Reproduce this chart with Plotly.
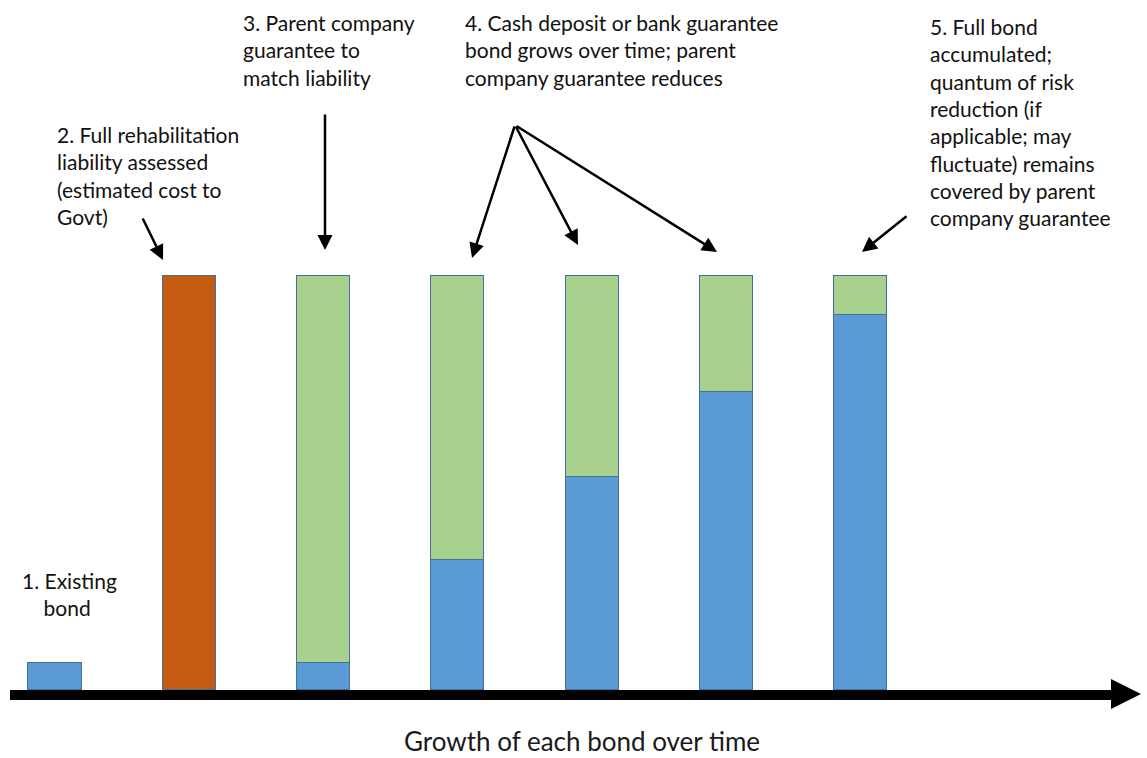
import plotly.graph_objects as go

W, H = 1147, 758

# ---- data ----
stages = [1, 2, 3, 4, 5, 6, 7]
bond_values = [6.5, 0, 6.5, 31.4, 51.4, 72.0, 90.6]          # cash deposit / bank guarantee (blue)
liability_values = [0, 100, 0, 0, 0, 0, 0]                    # full rehabilitation liability (orange)
parent_guarantee_values = [0, 0, 93.5, 68.6, 48.6, 28.0, 9.4] # parent company guarantee (green)

labels = [
    "1. Existing<br>    bond",
    "2. Full rehabilitation<br>liability assessed<br>(estimated cost to<br>Govt)",
    "3. Parent company<br>guarantee to<br>match liability",
    "4. Cash deposit or bank guarantee<br>bond grows over time; parent<br>company guarantee reduces",
    "5. Full bond<br>accumulated;<br>quantum of risk<br>reduction (if<br>applicable; may<br>fluctuate) remains<br>covered by parent<br>company guarantee",
]
axis_title = "Growth of each bond over time"

BLUE = "#5B9BD5"
ORANGE = "#C55A11"
GREEN = "#A9D18E"
EDGE = "#41719C"

# pixel helpers for decoration placement
def px(x):
    return x / W

def py(y):
    return 1 - y / H

spacing = 134.3
first_center = 55
xr = [1 - first_center / spacing, 1 + (W - first_center) / spacing]
ppu = 4.14  # pixels per unit
base_px = 690
yr = [-(H - base_px) / ppu, base_px / ppu]

fig = go.Figure()
bw = 0.395
for vals, col in [(bond_values, BLUE), (liability_values, ORANGE), (parent_guarantee_values, GREEN)]:
    fig.add_trace(go.Bar(
        x=stages, y=vals, width=bw,
        marker=dict(color=col, line=dict(color=EDGE, width=1)),
        showlegend=False, hoverinfo="skip",
    ))

FONT = "Lato, Carlito, Calibri, sans-serif"
fs = 21

annotations = []
text_pos = [(20, 566), (55, 120), (241, 8), (463, 8), (928, 12)]
for t, (lx, ty) in zip(labels, text_pos):
    annotations.append(dict(
        x=px(lx), y=py(ty), xref="paper", yref="paper",
        xanchor="left", yanchor="top", align="left",
        text=t, showarrow=False,
        font=dict(family=FONT, size=fs, color="#111111"),
    ))

# pointer arrows: (head_x, head_y, tail_x, tail_y)
pointers = [
    (163, 260, 142, 217),
    (325, 250, 325, 113),
    (472, 258, 515, 125),
    (578, 245, 515, 125),
    (717, 252, 515, 125),
    (862, 252, 908, 215),
]
for hx, hy, tx, tyy in pointers:
    annotations.append(dict(
        x=px(hx), y=py(hy), xref="paper", yref="paper",
        ax=tx - hx, ay=tyy - hy, axref="pixel", ayref="pixel",
        text="", showarrow=True, arrowhead=2, arrowsize=1.2,
        arrowwidth=2.5, arrowcolor="black",
    ))

annotations.append(dict(
    x=px(582), y=py(741), xref="paper", yref="paper",
    xanchor="center", yanchor="middle", borderpad=0,
    text=axis_title, showarrow=False,
    font=dict(family=FONT, size=26, color="#1a1a1a"),
))

shapes = [
    dict(type="line", xref="paper", yref="paper",
         x0=px(10), x1=px(1114), y0=py(695), y1=py(695),
         line=dict(color="black", width=10)),
    dict(type="path", xref="paper", yref="paper",
         path=f"M {px(1111)} {py(679)} L {px(1141)} {py(694)} L {px(1111)} {py(709)} Z",
         fillcolor="black", line=dict(color="black", width=0)),
]

fig.update_layout(
    width=W, height=H,
    margin=dict(l=0, r=0, t=0, b=0),
    paper_bgcolor="white", plot_bgcolor="white",
    barmode="stack", bargap=0,
    xaxis=dict(range=xr, visible=False, fixedrange=True),
    yaxis=dict(range=yr, visible=False, fixedrange=True),
    annotations=annotations,
    shapes=shapes,
)

fig.write_html("out.html")
